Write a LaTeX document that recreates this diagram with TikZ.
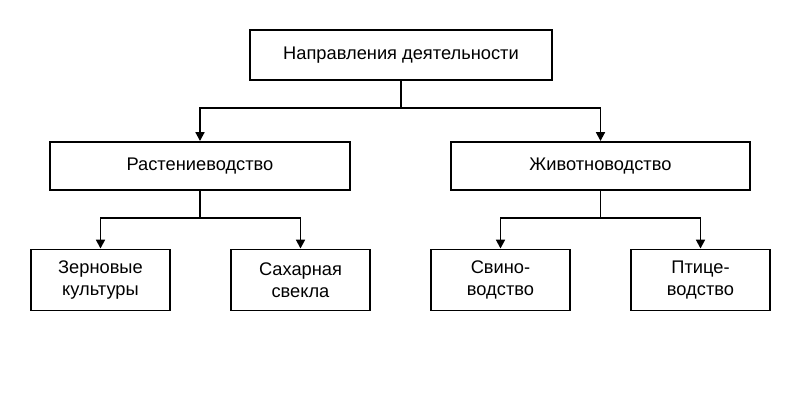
\documentclass[tikz,border=0pt]{standalone}
\usepackage{fontspec}
\setmainfont{Liberation Sans}
\usetikzlibrary{arrows.meta}
\tikzset{
  box/.style={draw,line width=1.1pt,align=center,font=\fontsize{10.4}{12.5}\selectfont,inner sep=0pt},
  link/.style={line width=1.1pt,-{Triangle[length=5pt,width=5pt]}}
}
\begin{document}
\begin{tikzpicture}
\useasboundingbox (0,0) rectangle (16,8);
% top level
\node[box,minimum width=6.04cm,minimum height=1cm] (dir) at (8.02,6.9) {Направления деятельности};
% second level
\node[box,minimum width=6cm,minimum height=0.96cm] (plant) at (4,4.68) {Растениеводство};
\node[box,minimum width=5.98cm,minimum height=0.96cm] (anim) at (12.01,4.68) {Животноводство};
% third level
\node[box,minimum width=2.78cm,minimum height=1.22cm] (grain) at (2.01,2.4) {Зерновые\\культуры};
\node[box,minimum width=2.78cm,minimum height=1.22cm] (beet) at (6.01,2.4) {Сахарная\\свекла};
\node[box,minimum width=2.78cm,minimum height=1.22cm] (pig) at (10.01,2.4) {Свино-\\водство};
\node[box,minimum width=2.78cm,minimum height=1.22cm] (bird) at (14.01,2.4) {Птице-\\водство};

\coordinate (j1) at (8.02,5.84);
\coordinate (j2) at (4,3.64);
\coordinate (j3) at (12.01,3.64);
\draw[line width=1.1pt] (dir.south) -- (j1);
\draw[link] (j1) -| (plant.north);
\draw[link] (j1) -| (anim.north);
\draw[line width=1.1pt] (plant.south) -- (j2);
\draw[link] (j2) -| (grain.north);
\draw[link] (j2) -| (beet.north);
\draw[line width=1.1pt] (anim.south) -- (j3);
\draw[link] (j3) -| (pig.north);
\draw[link] (j3) -| (bird.north);
\end{tikzpicture}
\end{document}
